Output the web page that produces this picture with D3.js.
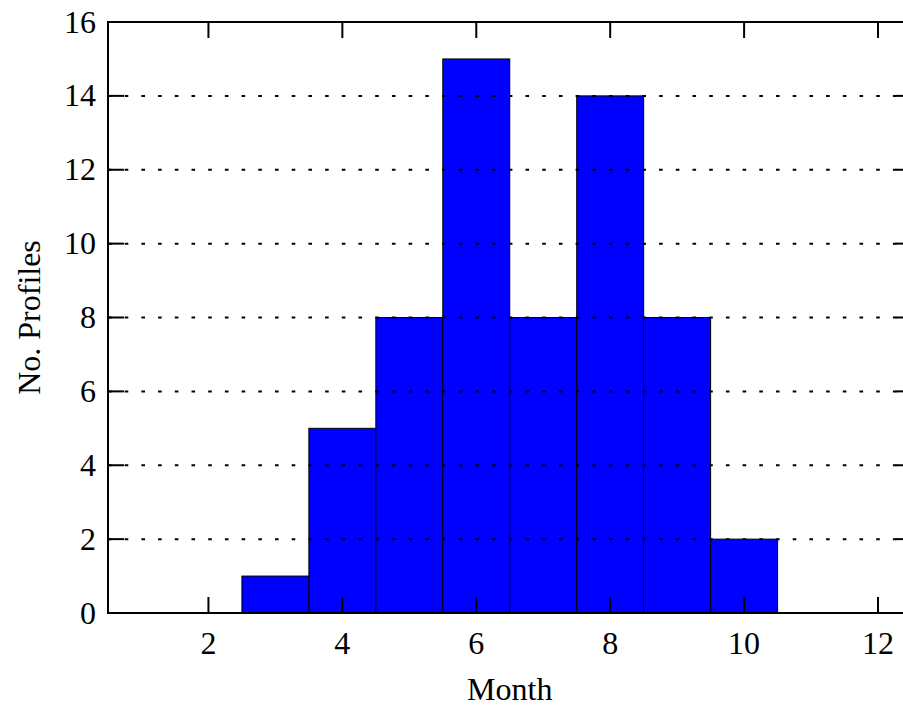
<!DOCTYPE html>
<html>
<head>
<meta charset="utf-8">
<script src="https://cdn.jsdelivr.net/npm/d3@7"></script>
<style>
  body { margin: 0; background: #fff; }
  text { font-family: "Liberation Serif", "Times New Roman", serif; fill: #000; }
</style>
</head>
<body>
<svg width="903" height="708"></svg>
<script>
const months = [1, 2, 3, 4, 5, 6, 7, 8, 9, 10, 11, 12]
const counts = [0, 0, 1, 5, 8, 15, 8, 14, 8, 2, 0, 0]
const xTicks = [2, 4, 6, 8, 10, 12]
const yTicks = [0, 2, 4, 6, 8, 10, 12, 14, 16]

const svg = d3.select('svg')

const plotLeft = 108
const plotTop = 22
const plotBottom = 613
const plotRight = 911.5

const x = d3.scaleLinear().domain([0.5, 12.5]).range([plotLeft, plotRight])
const y = d3.scaleLinear().domain([0, 16]).range([plotBottom, plotTop])

const data = months.map((m, i) => ({ month: m, count: counts[i] }))

// bars
svg.append('g')
  .selectAll('rect')
  .data(data)
  .join('rect')
  .attr('x', d => x(d.month - 0.5))
  .attr('width', d => x(d.month + 0.5) - x(d.month - 0.5))
  .attr('y', d => y(d.count))
  .attr('height', d => y(0) - y(d.count))
  .attr('fill', '#0000ff')
  .attr('stroke', '#000')
  .attr('stroke-width', 1)

// dotted horizontal grid, drawn over bars
svg.append('g')
  .selectAll('line')
  .data(yTicks)
  .join('line')
  .attr('x1', plotLeft)
  .attr('x2', plotRight)
  .attr('y1', d => y(d))
  .attr('y2', d => y(d))
  .attr('stroke', '#000')
  .attr('stroke-width', 2)
  .attr('stroke-dasharray', '3.6,13.1')

// frame
svg.append('rect')
  .attr('x', plotLeft)
  .attr('y', plotTop)
  .attr('width', plotRight - plotLeft)
  .attr('height', plotBottom - plotTop)
  .attr('fill', 'none')
  .attr('stroke', '#000')
  .attr('stroke-width', 2)

const tickLen = 16

// x ticks, bottom and top, pointing inward
const xt = svg.append('g')
xt.selectAll('line.b')
  .data(xTicks)
  .join('line')
  .attr('class', 'b')
  .attr('x1', d => x(d)).attr('x2', d => x(d))
  .attr('y1', plotBottom).attr('y2', plotBottom - tickLen)
  .attr('stroke', '#000').attr('stroke-width', 2)
xt.selectAll('line.t')
  .data(xTicks)
  .join('line')
  .attr('class', 't')
  .attr('x1', d => x(d)).attr('x2', d => x(d))
  .attr('y1', plotTop).attr('y2', plotTop + tickLen)
  .attr('stroke', '#000').attr('stroke-width', 2)
xt.selectAll('text')
  .data(xTicks)
  .join('text')
  .attr('x', d => x(d))
  .attr('y', 654)
  .attr('text-anchor', 'middle')
  .attr('font-size', 32)
  .text(d => d)

// y ticks, left and right
const yt = svg.append('g')
yt.selectAll('line.l')
  .data(yTicks)
  .join('line')
  .attr('class', 'l')
  .attr('x1', plotLeft).attr('x2', plotLeft + tickLen)
  .attr('y1', d => y(d)).attr('y2', d => y(d))
  .attr('stroke', '#000').attr('stroke-width', 2)
yt.selectAll('line.r')
  .data(yTicks)
  .join('line')
  .attr('class', 'r')
  .attr('x1', plotRight).attr('x2', plotRight - tickLen)
  .attr('y1', d => y(d)).attr('y2', d => y(d))
  .attr('stroke', '#000').attr('stroke-width', 2)
yt.selectAll('text')
  .data(yTicks)
  .join('text')
  .attr('x', 96)
  .attr('y', d => y(d))
  .attr('dy', '0.33em')
  .attr('text-anchor', 'end')
  .attr('font-size', 32)
  .text(d => d)

// axis titles
svg.append('text')
  .attr('x', (plotLeft + plotRight) / 2)
  .attr('y', 700)
  .attr('text-anchor', 'middle')
  .attr('font-size', 32)
  .text('Month')

svg.append('text')
  .attr('transform', `translate(40, ${(plotTop + plotBottom) / 2}) rotate(-90)`)
  .attr('text-anchor', 'middle')
  .attr('font-size', 32)
  .text('No. Profiles')
</script>
</body>
</html>
